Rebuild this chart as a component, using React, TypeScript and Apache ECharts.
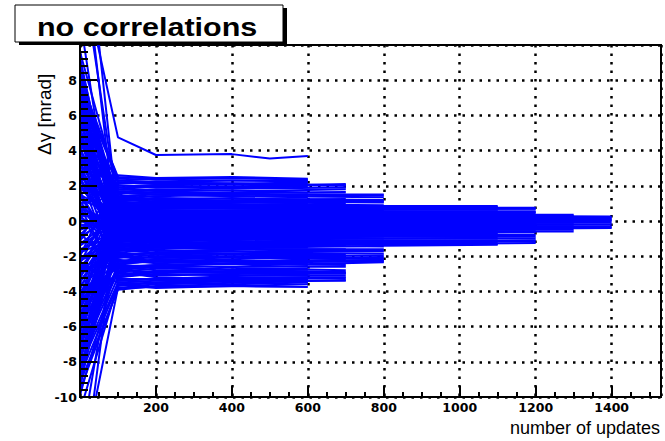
import { useEffect, useRef } from "react";
import * as echarts from "echarts";

// Axis ranges
const X_MIN = 0;
const X_MAX = 1530;
const Y_MIN = -10;
const Y_MAX = 10;

// Runs grouped by how many updates they lasted.
// Each group lists the update counts at which a value was recorded,
// and every run gives Δγ [mrad] at those update counts.
const updates600 = [0, 100, 200, 400, 600];
const runs600 = [
  [7.8, 2.5, 2.4, 2.45, 2.35],
  [-6.2, 2.3, 2.2, 2.3, 2.3],
  [3.1, 2.1, 2.25, 2.1, 2.2],
  [-9.2, -3.9, -3.7, -3.6, -3.5],
  [5.4, -3.7, -3.5, -3.3, -3.2],
  [-2.5, -3.5, -3.6, -3.4, -3.45],
  [0.8, -3.2, -3.0, -3.1, -3.05],
  [-7.7, -2.9, -3.2, -3.3, -3.3],
  [9.6, 1.8, 1.7, 1.75, 1.6],
  [-4.4, 1.5, 1.2, 1.3, 1.2],
  [2.2, 0.9, 0.7, 0.8, 0.6],
  [-1.3, 0.3, 0.1, 0.2, 0.15],
  [6.6, -0.4, -0.5, -0.3, -0.4],
  [-8.4, -1.1, -1.0, -1.2, -1.1],
  [4.2, -1.6, -1.8, -1.7, -1.9],
  [-3.6, -2.2, -2.4, -2.3, -2.5],
  [1.7, -2.7, -2.6, -2.8, -2.7],
  [-10.8, -3.6, -3.8, -3.7, -3.6],
  [8.4, 1.1, 1.3, 1.1, 1.0],
  [-5.5, 0.5, 0.6, 0.4, 0.5],
  [0.2, -0.9, -0.8, -0.9, -1.0],
  [3.8, -2.0, -2.1, -2.0, -2.2],
  [-2.0, 2.6, 2.45, 2.5, 2.4],
  [17.0, -1.4, -1.5, -1.4, -1.3],
  [8.1, 2.4, 2.35, 2.3, 2.25],
  [-9.6, -3.8, -3.75, -3.7, -3.75],
  [6.0, -3.4, -3.3, -3.35, -3.3],
  [-6.8, -2.6, -2.8, -2.9, -2.85],
  [4.8, -2.4, -2.3, -2.45, -2.4],
  [-3.1, 1.9, 2.0, 1.9, 1.95],
  [7.0, 1.6, 1.5, 1.55, 1.45],
  [-8.0, 0.8, 1.0, 0.95, 0.9],
  [2.8, -0.6, -0.7, -0.6, -0.65],
  [-4.9, -1.3, -1.4, -1.5, -1.5],
  [5.0, -3.0, -2.9, -2.95, -3.0],
  [-1.0, 2.2, 2.1, 2.15, 2.1],
  [9.0, 0.0, -0.1, 0.0, -0.1],
  [-7.2, -1.8, -2.0, -1.9, -2.0],
  [1.0, 1.4, 1.5, 1.4, 1.35],
];

const updatesOutlier = [0, 100, 200, 300, 400, 500, 600];
const runOutlier = [14.6, 4.75, 3.75, 3.78, 3.8, 3.55, 3.7];

const updates700 = [0, 100, 200, 450, 700];
const runs700 = [
  [6.2, 2.2, 2.1, 2.05, 2.0],
  [-3.3, 2.0, 2.0, 1.95, 2.1],
  [-8.8, -3.6, -3.5, -3.4, -3.4],
  [2.6, -3.3, -3.3, -3.2, -3.2],
  [-0.7, -2.8, -2.9, -2.7, -2.8],
  [7.1, -2.5, -2.6, -2.6, -2.6],
  [-6.9, 1.6, 1.8, 1.7, 1.8],
  [4.9, 1.3, 1.4, 1.5, 1.5],
  [-1.9, 0.9, 1.0, 0.9, 1.0],
  [1.2, 0.4, 0.3, 0.4, 0.3],
  [-4.9, -0.2, -0.1, -0.2, -0.1],
  [5.8, -0.7, -0.6, -0.7, -0.6],
  [-2.8, -1.3, -1.2, -1.3, -1.3],
  [9.1, -1.9, -1.8, -1.9, -1.9],
  [-9.9, -2.3, -2.2, -2.3, -2.2],
  [0.4, -3.0, -3.1, -3.0, -3.0],
  [3.5, 1.9, 1.9, 1.85, 1.9],
  [-7.3, 0.7, 0.8, 0.7, 0.7],
  [2.9, -1.6, -1.5, -1.6, -1.6],
  [-5.2, -2.9, -2.7, -2.8, -2.9],
  [20.0, 0.1, 0.0, 0.1, 0.2],
  [-14.5, -3.8, -3.6, -3.5, -3.35],
  [7.6, 2.3, 2.2, 2.1, 2.05],
  [-8.3, -3.5, -3.4, -3.3, -3.25],
  [4.3, -3.1, -2.9, -2.95, -2.95],
  [-5.9, 1.2, 1.1, 1.2, 1.25],
  [1.6, -2.0, -2.1, -2.0, -2.05],
  [-2.2, -0.5, -0.4, -0.45, -0.4],
  [6.7, 0.6, 0.5, 0.55, 0.5],
  [-9.1, -1.0, -0.9, -1.0, -0.95],
  [3.9, 1.7, 1.6, 1.6, 1.65],
  [-4.5, -2.6, -2.5, -2.45, -2.5],
  [0.1, -1.4, -1.45, -1.4, -1.4],
  [8.3, -3.4, -3.3, -3.1, -3.1],
];

const updates800 = [0, 100, 200, 500, 800];
const runs800 = [
  [5.1, 1.9, 1.7, 1.5, 1.45],
  [-2.4, 1.6, 1.5, 1.4, 1.35],
  [1.9, 1.2, 1.3, 1.25, 1.2],
  [-8.1, -3.2, -2.9, -2.5, -2.35],
  [3.0, -2.8, -2.6, -2.3, -2.2],
  [-4.0, -2.4, -2.3, -2.1, -2.05],
  [7.4, 0.9, 0.9, 0.95, 0.9],
  [-0.3, 0.5, 0.6, 0.55, 0.6],
  [-6.4, 0.1, 0.2, 0.2, 0.25],
  [4.6, -0.3, -0.2, -0.25, -0.2],
  [-1.6, -0.8, -0.7, -0.6, -0.65],
  [8.9, -1.2, -1.1, -1.05, -1.0],
  [-3.0, -1.7, -1.5, -1.4, -1.45],
  [0.9, -2.1, -1.9, -1.8, -1.85],
  [-9.5, 1.4, 1.2, 1.1, 1.05],
  [6.0, 0.3, 0.4, 0.35, 0.4],
  [-5.8, -0.5, -0.4, -0.45, -0.4],
  [2.4, -1.0, -1.3, -1.25, -1.2],
  [-7.0, -1.5, -1.7, -1.6, -1.6],
  [11.5, -2.5, -2.2, -2.0, -1.95],
  [-1.1, 1.0, 0.8, 0.75, 0.7],
  [3.7, -0.1, 0.0, 0.05, 0.0],
  [6.5, 1.7, 1.6, 1.5, 1.5],
  [-7.4, -2.7, -2.5, -2.35, -2.3],
  [3.4, 1.0, 1.1, 1.05, 1.1],
  [-4.3, -1.9, -1.8, -1.7, -1.7],
  [0.5, -0.6, -0.5, -0.5, -0.5],
  [-8.7, 0.7, 0.5, 0.45, 0.45],
  [5.2, -1.4, -1.3, -1.3, -1.3],
  [-2.7, -2.3, -2.0, -2.1, -2.15],
  [7.9, 0.2, 0.1, 0.1, 0.1],
  [-0.8, 1.3, 1.2, 1.15, 1.15],
  [2.1, -0.9, -0.85, -0.85, -0.85],
  [-6.0, -2.0, -2.3, -2.25, -2.25],
];

const updates1100 = [0, 100, 200, 500, 800, 1100];
const runs1100 = [
  [4.4, 1.3, 1.1, 0.9, 0.85, 0.85],
  [-3.9, 0.9, 0.8, 0.75, 0.7, 0.65],
  [-7.6, -2.0, -1.8, -1.5, -1.4, -1.35],
  [1.4, -1.7, -1.5, -1.3, -1.25, -1.2],
  [6.9, 0.5, 0.5, 0.45, 0.45, 0.4],
  [-0.5, 0.2, 0.15, 0.2, 0.2, 0.15],
  [3.3, -0.2, -0.15, -0.1, -0.1, -0.1],
  [-5.0, -0.6, -0.5, -0.45, -0.4, -0.4],
  [0.6, -1.0, -0.9, -0.8, -0.75, -0.7],
  [-2.2, -1.4, -1.2, -1.0, -1.0, -0.95],
  [15.0, 0.7, 0.6, 0.6, 0.55, 0.55],
  [-13.0, -0.3, -0.3, -0.25, -0.25, -0.25],
  [2.0, -0.8, -0.7, -0.6, -0.6, -0.55],
  [-4.6, 1.1, 1.0, 0.8, 0.8, 0.75],
  [5.7, -1.2, -1.1, -1.15, -1.1, -1.1],
  [-1.4, 0.0, 0.05, 0.0, 0.05, 0.05],
  [7.3, 1.0, 0.9, 0.85, 0.8, 0.8],
  [-6.6, -1.6, -1.4, -1.3, -1.3, -1.3],
  [2.9, 0.3, 0.35, 0.3, 0.3, 0.3],
  [-3.4, -0.9, -0.75, -0.7, -0.65, -0.65],
  [5.0, -0.1, -0.05, 0.0, -0.05, -0.05],
  [-9.3, 0.6, 0.55, 0.5, 0.5, 0.5],
  [0.9, -1.1, -1.0, -0.9, -0.85, -0.85],
  [-1.7, -0.4, -0.35, -0.3, -0.3, -0.3],
];

const updates1200 = [0, 100, 200, 500, 800, 1200];
const runs1200 = [
  [-2.9, 1.0, 0.9, 0.8, 0.75, 0.75],
  [5.5, 0.8, 0.7, 0.7, 0.65, 0.7],
  [-6.1, -1.8, -1.6, -1.4, -1.3, -1.25],
  [1.1, -1.5, -1.3, -1.2, -1.2, -1.15],
  [-0.9, 0.4, 0.4, 0.35, 0.3, 0.3],
  [7.7, 0.1, 0.1, 0.1, 0.1, 0.1],
  [-4.2, -0.3, -0.25, -0.2, -0.2, -0.2],
  [2.7, -0.7, -0.6, -0.55, -0.5, -0.5],
  [-9.0, -1.1, -0.9, -0.85, -0.8, -0.8],
  [4.0, 0.6, 0.5, 0.5, 0.5, 0.5],
  [-3.5, -0.1, 0.0, -0.05, 0.0, -0.05],
  [0.0, -0.5, -0.45, -0.4, -0.35, -0.35],
  [9.3, -0.9, -0.8, -0.7, -0.7, -0.65],
  [-5.6, 0.2, 0.25, 0.2, 0.2, 0.2],
  [3.2, -1.3, -1.15, -1.0, -1.0, -1.0],
  [-16.0, 0.5, 0.45, 0.4, 0.4, 0.45],
  [6.3, 0.9, 0.8, 0.7, 0.7, 0.7],
  [-7.9, -1.6, -1.4, -1.2, -1.15, -1.1],
  [3.6, 0.3, 0.3, 0.25, 0.25, 0.25],
  [-2.3, -0.8, -0.7, -0.6, -0.6, -0.6],
  [0.4, 0.0, -0.1, -0.1, -0.1, -0.1],
  [-5.0, -0.4, -0.4, -0.35, -0.3, -0.3],
  [8.6, 0.7, 0.6, 0.6, 0.55, 0.55],
  [-1.2, -1.2, -1.0, -0.95, -0.9, -0.9],
];

const updates1300 = [0, 100, 200, 600, 1000, 1300];
const runs1300 = [
  [2.5, 0.8, 0.6, 0.4, 0.35, 0.35],
  [-4.7, 0.5, 0.4, 0.3, 0.3, 0.3],
  [6.4, -1.2, -0.9, -0.7, -0.6, -0.6],
  [-1.8, -0.9, -0.7, -0.55, -0.5, -0.5],
  [0.3, 0.2, 0.15, 0.1, 0.1, 0.1],
  [-7.1, -0.2, -0.2, -0.15, -0.1, -0.1],
  [4.7, -0.6, -0.5, -0.35, -0.3, -0.3],
  [-3.2, 0.0, 0.05, 0.0, 0.0, 0.0],
  [8.7, 0.4, 0.3, 0.2, 0.2, 0.2],
  [-0.2, -0.4, -0.35, -0.25, -0.2, -0.2],
  [5.6, 0.6, 0.45, 0.3, 0.25, 0.25],
  [-6.0, -0.8, -0.6, -0.45, -0.4, -0.4],
  [1.9, -0.3, -0.2, -0.1, -0.05, -0.05],
  [-2.9, 0.3, 0.2, 0.15, 0.15, 0.15],
];

const updates1400 = [0, 100, 200, 600, 1000, 1400];
const runs1400 = [
  [3.6, 0.6, 0.5, 0.35, 0.3, 0.25],
  [-5.3, -0.9, -0.7, -0.5, -0.45, -0.4],
  [1.5, 0.3, 0.2, 0.15, 0.15, 0.15],
  [-2.6, -0.4, -0.35, -0.3, -0.3, -0.3],
  [7.2, 0.1, 0.05, 0.05, 0.05, 0.05],
  [-8.6, -0.6, -0.5, -0.25, -0.2, -0.2],
  [0.7, -0.1, -0.1, -0.05, -0.1, -0.1],
  [-0.4, 0.2, 0.1, 0.1, 0.1, 0.1],
  [4.5, 0.4, 0.3, 0.2, 0.2, 0.2],
  [-4.1, -0.5, -0.4, -0.35, -0.35, -0.35],
  [2.3, 0.0, 0.0, 0.0, 0.0, 0.0],
];

const groups: [number[], number[][]][] = [
  [updates600, runs600],
  [updatesOutlier, [runOutlier]],
  [updates700, runs700],
  [updates800, runs800],
  [updates1100, runs1100],
  [updates1200, runs1200],
  [updates1300, runs1300],
  [updates1400, runs1400],
];

const TITLE = "no correlations";
const X_TITLE = "number of updates";
const Y_TITLE = "Δγ [mrad]";

const RUN_COLOR = "#0000ff";
const BOLD_TICK_FONT = "DejaVu Sans";

export default function App() {
  const ref = useRef<HTMLDivElement>(null);

  useEffect(() => {
    if (!ref.current) return;
    const chart = echarts.init(ref.current, null, { renderer: "svg" });

    const series: any[] = [];
    groups.forEach(([xs, runs]) => {
      runs.forEach((run) => {
        series.push({
          type: "line",
          xAxisIndex: 0,
          yAxisIndex: 0,
          data: xs.map((x, i) => [x, run[i]]),
          symbol: "none",
          clip: true,
          silent: true,
          lineStyle: { color: RUN_COLOR, width: 2 },
        });
      });
    });

    const tickLabel = {
      color: "#000",
      fontFamily: BOLD_TICK_FONT,
      fontWeight: "bold" as const,
      fontSize: 12.5,
    };
    const black = { color: "#000", width: 2 };
    const dotted = { color: "#000", width: 2.5, type: [2.5, 6] as number[] };

    chart.setOption({
      animation: false,
      backgroundColor: "#fff",
      grid: {
        left: 80,
        right: 4,
        top: 45,
        bottom: 44,
        show: true,
        borderColor: "#000",
        borderWidth: 2,
        backgroundColor: "transparent",
      },
      xAxis: [
        {
          type: "value",
          min: X_MIN,
          max: X_MAX,
          interval: 200,
          z: 5,
          axisLine: { show: true, onZero: false, lineStyle: black },
          axisTick: { show: true, inside: true, length: 11, lineStyle: black },
          minorTick: { show: true, splitNumber: 4, length: 5, lineStyle: black },
          axisLabel: {
            ...tickLabel,
            margin: 4,
            formatter: (v: number) => (v > 0 && v % 200 === 0 ? String(v) : ""),
          },
          splitLine: { show: false },
        },
        {
          type: "value",
          min: X_MIN,
          max: X_MAX,
          interval: 200,
          position: "bottom",
          axisLine: { show: false },
          axisTick: { show: false },
          axisLabel: { show: false },
          splitLine: { show: true, lineStyle: dotted },
        },
      ],
      yAxis: [
        {
          type: "value",
          min: Y_MIN,
          max: Y_MAX,
          interval: 2,
          z: 5,
          axisLine: { show: true, onZero: false, lineStyle: black },
          axisTick: { show: true, inside: true, length: 17, lineStyle: black },
          minorTick: { show: true, splitNumber: 5, length: 8, lineStyle: black },
          axisLabel: {
            ...tickLabel,
            margin: 3,
            formatter: (v: number) => (v < Y_MAX ? String(v) : ""),
          },
          splitLine: { show: false },
        },
        {
          type: "value",
          min: Y_MIN,
          max: Y_MAX,
          interval: 2,
          position: "left",
          axisLine: { show: false },
          axisTick: { show: false },
          axisLabel: { show: false },
          splitLine: { show: true, lineStyle: dotted },
        },
      ],
      series,
      graphic: [
        // title box with drop shadow
        {
          type: "rect",
          shape: { x: 19, y: 8, width: 268, height: 37 },
          style: { fill: "#000" },
          z: 10,
        },
        {
          type: "rect",
          shape: { x: 15, y: 5, width: 268, height: 37 },
          style: { fill: "#fff", stroke: "#000", lineWidth: 1 },
          z: 11,
        },
        {
          type: "text",
          x: 37,
          y: 27,
          scaleX: 1.22,
          z: 12,
          style: {
            text: TITLE,
            font: "bold 25px 'Liberation Sans', Arial, sans-serif",
            fill: "#000",
            textAlign: "left",
            textVerticalAlign: "middle",
          },
        },
        {
          type: "text",
          x: 44,
          y: 155,
          rotation: Math.PI / 2,
          z: 12,
          style: {
            text: Y_TITLE,
            font: "19px 'Liberation Sans', Arial, sans-serif",
            fill: "#000",
            textAlign: "left",
            textVerticalAlign: "middle",
          },
        },
        {
          type: "text",
          x: 660,
          y: 428,
          z: 12,
          style: {
            text: X_TITLE,
            font: "18px 'Liberation Sans', Arial, sans-serif",
            fill: "#000",
            textAlign: "right",
            textVerticalAlign: "middle",
          },
        },
      ],
    });

    return () => chart.dispose();
  }, []);

  return (
    <div
      ref={ref}
      style={{ position: "absolute", left: 0, top: 0, width: 665, height: 441 }}
    />
  );
}
